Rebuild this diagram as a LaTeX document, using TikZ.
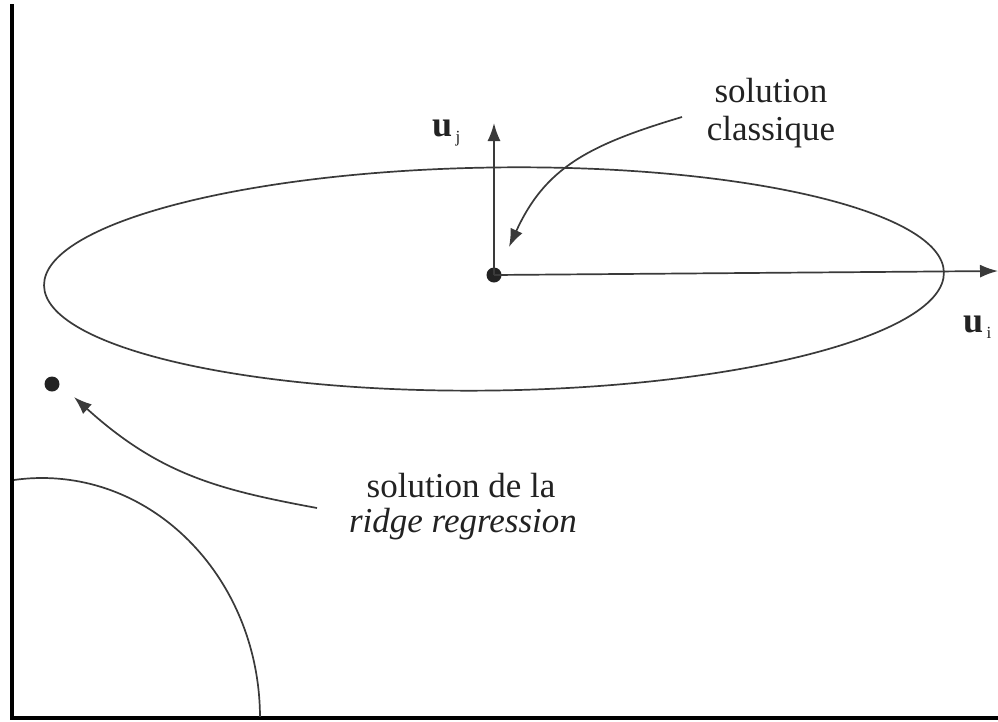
\documentclass[tikz,border=0pt]{standalone}
\usepackage{fontspec}
\setmainfont{Liberation Serif}
\usetikzlibrary{arrows.meta}
\definecolor{ink}{HTML}{222222}
\definecolor{line}{HTML}{3A3A3A}
\tikzset{
  axisline/.style={draw=black, line width=4.5pt},
  curveline/.style={draw=line, line width=1.7pt},
  arrowline/.style={draw=line, line width=1.7pt, -{Latex[length=18pt,width=13pt]}},
  dotnode/.style={circle, fill=ink, inner sep=0pt, minimum size=15pt},
  lbl/.style={inner sep=0pt, anchor=base, text=ink, font=\fontsize{35}{38}\selectfont},
  veclbl/.style={inner sep=0pt, anchor=base west, text=ink, font=\fontsize{36}{36}\selectfont\bfseries},
  sublbl/.style={inner sep=0pt, anchor=base west, text=ink, font=\fontsize{17}{17}\selectfont}
}
\begin{document}
\begin{tikzpicture}[x=1pt,y=-1pt]
\useasboundingbox[fill=white] (0,0) rectangle (998,721);
% axes
\coordinate (ytop) at (12,4);
\coordinate (origin) at (12,718);
\coordinate (xend) at (998,718);
\draw[axisline] (ytop) -- (origin) -- (xend);
% small ellipse arc (bottom left)
\begin{scope}
\clip (14,0) rectangle (998,716);
\draw[curveline] (42,718) ellipse (218 and 240);
\end{scope}
% big ellipse
\coordinate (ec) at (494,279);
\draw[curveline, rotate around={0.83:(ec)}] (ec) ellipse (450 and 111.5);
% classical solution and axes
\node[dotnode] (d1) at (494,275) {};
\coordinate (ujtip) at (494,123);
\coordinate (uitip) at (998,271);
\draw[arrowline] (d1.center) -- (ujtip);
\draw[arrowline] (d1.center) -- (uitip);
\node[veclbl] (uj) at (432,136) {u};
\node[sublbl, xshift=3pt, yshift=-6pt] (ujs) at (uj.base east) {j};
\node[veclbl] (ui) at (963,332) {u};
\node[sublbl, xshift=3pt, yshift=-6pt] (uis) at (ui.base east) {i};
% labels
\node[lbl] (cl1) at (771,102) {solution};
\node[lbl] (cl2) at (771,140) {classique};
\coordinate (clstart) at (682,117);
\coordinate (cltip) at (509,247);
\draw[arrowline] (clstart) .. controls (588,145) and (545,168) .. (cltip);
% ridge solution
\node[dotnode] (d2) at (52,384) {};
\node[lbl] (rg1) at (461,497) {solution de la};
\node[lbl] (rg2) at (463,532) {\itshape ridge regression};
\coordinate (rgstart) at (317,508);
\coordinate (rgtip) at (74,397);
\draw[arrowline] (rgstart) .. controls (220,490) and (160,475) .. (rgtip);
\end{tikzpicture}
\end{document}
